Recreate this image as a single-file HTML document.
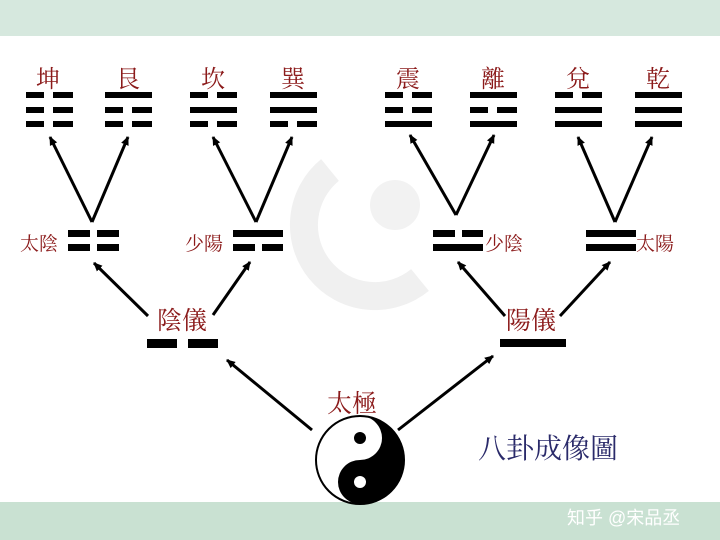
<!DOCTYPE html>
<html><head><meta charset="utf-8"><style>
body{margin:0;width:720px;height:540px;overflow:hidden;background:#fff;}
svg{display:block}
.r{font-family:"Liberation Serif","Noto Serif CJK SC",serif;fill:#8b1a1a;}
</style></head><body>
<svg width="720" height="540" xmlns="http://www.w3.org/2000/svg">
<defs><marker id="a" markerWidth="10" markerHeight="10" refX="8" refY="5" orient="auto" markerUnits="userSpaceOnUse"><path d="M0,1 L9,5 L0,9 Z" fill="#000"/></marker></defs>
<rect x="0" y="0" width="720" height="36" fill="#d6e8de"/>
<rect x="0" y="502" width="720" height="38" fill="#c9e1d2"/>
<!-- faint watermark -->
<path d="M330,170 A60,60 0 1,0 420,280" fill="none" stroke="#f0f0f0" stroke-width="28"/>
<circle cx="395" cy="205" r="25" fill="#f2f2f2"/>
<g fill="#000">
<rect x="26" y="92" width="18" height="6"/><rect x="53" y="92" width="20" height="6"/>
<rect x="26" y="107" width="18" height="6"/><rect x="53" y="107" width="20" height="6"/>
<rect x="26" y="121" width="18" height="6"/><rect x="53" y="121" width="20" height="6"/>
<rect x="105" y="92" width="47" height="6"/>
<rect x="105" y="107" width="18" height="6"/><rect x="132" y="107" width="20" height="6"/>
<rect x="105" y="121" width="18" height="6"/><rect x="132" y="121" width="20" height="6"/>
<rect x="190" y="92" width="18" height="6"/><rect x="217" y="92" width="20" height="6"/>
<rect x="190" y="107" width="47" height="6"/>
<rect x="190" y="121" width="18" height="6"/><rect x="217" y="121" width="20" height="6"/>
<rect x="270" y="92" width="47" height="6"/>
<rect x="270" y="107" width="47" height="6"/>
<rect x="270" y="121" width="18" height="6"/><rect x="297" y="121" width="20" height="6"/>
<rect x="385" y="92" width="18" height="6"/><rect x="412" y="92" width="20" height="6"/>
<rect x="385" y="107" width="18" height="6"/><rect x="412" y="107" width="20" height="6"/>
<rect x="385" y="121" width="47" height="6"/>
<rect x="470" y="92" width="47" height="6"/>
<rect x="470" y="107" width="18" height="6"/><rect x="497" y="107" width="20" height="6"/>
<rect x="470" y="121" width="47" height="6"/>
<rect x="555" y="92" width="18" height="6"/><rect x="582" y="92" width="20" height="6"/>
<rect x="555" y="107" width="47" height="6"/>
<rect x="555" y="121" width="47" height="6"/>
<rect x="635" y="92" width="47" height="6"/>
<rect x="635" y="107" width="47" height="6"/>
<rect x="635" y="121" width="47" height="6"/>
<rect x="68" y="230" width="22" height="7"/><rect x="97" y="230" width="22" height="7"/>
<rect x="68" y="244" width="22" height="7"/><rect x="97" y="244" width="22" height="7"/>
<rect x="233" y="230" width="50" height="7"/>
<rect x="233" y="244" width="22" height="7"/><rect x="262" y="244" width="21" height="7"/>
<rect x="433" y="230" width="22" height="7"/><rect x="462" y="230" width="21" height="7"/>
<rect x="433" y="244" width="50" height="7"/>
<rect x="586" y="230" width="50" height="7"/>
<rect x="586" y="244" width="50" height="7"/>
<rect x="147" y="339" width="30" height="9"/><rect x="188" y="339" width="30" height="9"/>
<rect x="500" y="339" width="66" height="8"/>
</g>
<g stroke="#000" stroke-width="3" fill="none" marker-end="url(#a)">
<line x1="92" y1="222" x2="50" y2="137"/><line x1="92" y1="222" x2="128" y2="137"/>
<line x1="256" y1="222" x2="213" y2="137"/><line x1="256" y1="222" x2="292" y2="137"/>
<line x1="456" y1="215" x2="410" y2="135"/><line x1="456" y1="215" x2="494" y2="135"/>
<line x1="615" y1="222" x2="578" y2="137"/><line x1="615" y1="222" x2="652" y2="137"/>
<line x1="148" y1="316" x2="94" y2="263"/><line x1="213" y1="315" x2="250" y2="262"/>
<line x1="505" y1="316" x2="458" y2="262"/><line x1="560" y1="316" x2="610" y2="262"/>
<line x1="312" y1="430" x2="227" y2="360"/><line x1="398" y1="430" x2="493" y2="356"/>
</g>
<g class="r" font-size="24" text-anchor="middle">
<text x="48" y="87">坤</text><text x="128" y="87">艮</text><text x="213" y="87">坎</text><text x="293" y="87">巽</text>
<text x="408" y="87">震</text><text x="493" y="87">離</text><text x="578" y="87">兌</text><text x="658" y="87">乾</text>
</g>
<g class="r" font-size="19">
<text x="20" y="250">太陰</text><text x="185" y="250">少陽</text><text x="485" y="250">少陰</text><text x="636" y="250">太陽</text>
</g>
<g class="r" font-size="25" text-anchor="middle">
<text x="182" y="329">陰儀</text><text x="531" y="329">陽儀</text><text x="352" y="412">太極</text>
</g>
<g transform="translate(360,460)">
<circle r="44" fill="#fff" stroke="#000" stroke-width="2"/>
<path d="M0,-44 A44,44 0 0,1 0,44 A22,22 0 0,1 0,0 A22,22 0 0,0 0,-44 Z" fill="#000"/>
<circle cx="0" cy="-22" r="6" fill="#000"/>
<circle cx="0" cy="22" r="6" fill="#fff"/>
</g>
<text x="478" y="458" font-size="28" fill="#2a2a6a" style="font-family:'Liberation Serif','Noto Serif CJK SC',serif">八卦成像圖</text>
<text x="567" y="524" font-size="18" fill="#fff" style="font-family:'Liberation Sans','Noto Sans CJK SC',sans-serif">知乎 @宋品丞</text>
</svg>
</body></html>
